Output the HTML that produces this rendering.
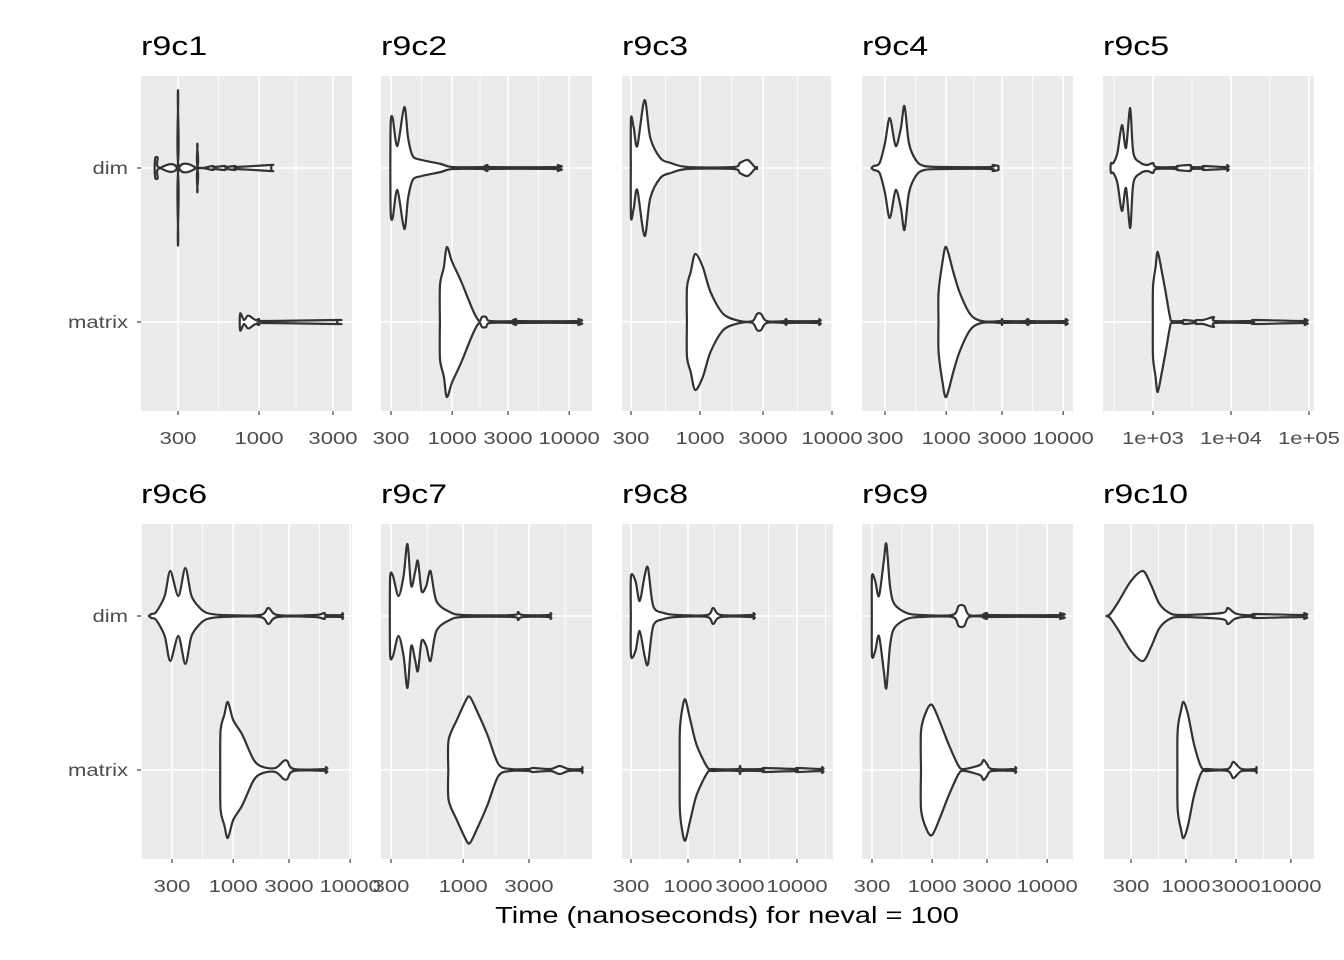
<!DOCTYPE html>
<html><head><meta charset="utf-8"><style>
html,body{margin:0;padding:0;background:#fff;}
svg{display:block;}
text{font-family:"Liberation Sans",Arial,sans-serif;}
</style></head><body>
<svg id="s" width="1344" height="960" xmlns="http://www.w3.org/2000/svg"></svg>
<script>
const P=[
 {t:"r9c1",x0:141,y0:76,a:178,b:155,br:[300,1000,3000],lab:["300","1000","3000"],
  d:[[212,0],[214,10],[222,10],[224,1],[297,1],[299,70],[301,70],[303,1],[397,1],[399,22],[401,22],[403,1],[500,2],[510,1],[600,2],[610,1],[700,2],[710,1],[1190,3],[1200,3]],
  m:[[750,0],[755,8],[765,8],[800,2],[840,6],[870,6],[950,2],[1000,3],[1050,1],[3150,2],[3200,2]]},
 {t:"r9c2",x0:381,y0:76,a:391,b:117,br:[300,1000,3000,10000],lab:["300","1000","3000","10000"],
  d:[[296,0],[298,45],[310,50],[340,22],[390,61],[420,30],[460,12],[550,8],[800,4],[1000,1],[1900,1],[2000,3],[2100,1],[7900,1],[8000,3]],
  m:[[785,0],[787,37],[850,55],[900,75],[1000,60],[1200,40],[1500,12],[1700,1],[1800,5],[1950,5],[2100,1],[3400,1],[3500,3],[3600,1],[11900,1],[12000,3]]},
 {t:"r9c3",x0:622,y0:76,a:631,b:132,br:[300,1000,3000,10000],lab:["300","1000","3000","10000"],
  d:[[299,0],[300,50],[315,40],[335,22],[380,68],[420,30],[500,10],[600,5],[800,1],[1800,1],[2000,5],[2300,8],[2600,1],[2700,1]],
  m:[[795,0],[797,35],[850,50],[920,68],[1050,55],[1200,30],[1500,8],[2000,1],[2500,1],[2700,8],[2900,8],[3200,1],[4400,1],[4500,3],[4600,1],[7900,1],[8000,3]]},
 {t:"r9c4",x0:862,y0:76,a:885,b:117,br:[300,1000,3000,10000],lab:["300","1000","3000","10000"],
  d:[[230,0],[240,2],[270,5],[300,25],[330,50],[370,22],[410,40],[440,62],[480,25],[550,8],[650,2],[1000,1],[2400,1],[2500,3],[2800,2]],
  m:[[860,0],[862,30],[930,60],[1000,75],[1150,50],[1300,30],[1600,8],[2000,1],[2900,1],[3000,3],[3100,1],[4900,1],[5000,3],[5100,1],[10400,1],[10500,3]]},
 {t:"r9c5",x0:1103,y0:76,a:1153-78*Math.log10(1000/300),b:78,br:[1000,10000,100000],lab:["1e+03","1e+04","1e+05"],
  d:[[285,0],[290,5],[310,5],[350,15],[400,43],[450,20],[510,60],[560,15],[700,5],[850,3],[1000,5],[1100,1],[2000,1],[2050,2],[3000,3],[3100,1],[4400,1],[4500,2],[8900,1],[9000,3]],
  m:[[995,0],[1000,35],[1080,55],[1150,70],[1300,50],[1450,30],[1650,5],[1750,1],[2400,1],[2500,2],[3500,1],[3600,2],[4400,2],[6000,5],[6300,1],[19000,1],[20000,2],[87000,1],[88000,3]]},
 {t:"r9c6",x0:141,y0:524,a:172,b:117,br:[300,1000,3000,10000],lab:["300","1000","3000","10000"],
  d:[[190,0],[200,2],[220,4],[260,20],[290,45],[340,20],[390,48],[440,20],[520,8],[600,3],[800,1],[1700,1],[2000,8],[2400,1],[5000,1],[6000,3],[6200,1],[8500,1],[8600,3]],
  m:[[775,0],[780,40],[840,55],[900,68],[1000,50],[1200,35],[1500,10],[1800,3],[2300,2],[2700,9],[2900,9],[3300,1],[6100,1],[6200,3]]},
 {t:"r9c7",x0:381,y0:524,a:391,b:138,br:[300,1000,3000],lab:["300","1000","3000"],
  d:[[294,0],[296,40],[310,40],[340,20],[370,40],[395,72],[420,30],[450,45],[470,55],[500,25],[540,30],[580,45],[640,15],[800,4],[1000,1],[2300,1],[2500,4],[2700,1],[4200,1],[4300,3]],
  m:[[780,0],[785,30],[900,50],[1050,70],[1120,73],[1250,60],[1500,35],[1800,6],[2200,1],[3000,1],[3200,2],[4300,1],[5000,4],[5800,1],[7200,1],[7300,3]]},
 {t:"r9c8",x0:622,y0:524,a:631,b:109,br:[300,1000,3000,10000],lab:["300","1000","3000","10000"],
  d:[[299,0],[300,40],[330,35],[360,15],[400,40],[430,48],[480,10],[600,3],[800,1],[1500,1],[1700,8],[2000,1],[3900,1],[4000,3]],
  m:[[840,0],[842,40],[900,65],[950,70],[1050,50],[1200,25],[1500,3],[1700,1],[2900,1],[3000,4],[3100,1],[4900,1],[5000,2],[9900,1],[10000,2],[16900,1],[17000,3]]},
 {t:"r9c9",x0:862,y0:524,a:872,b:115,br:[300,1000,3000,10000],lab:["300","1000","3000","10000"],
  d:[[299,0],[300,40],[320,35],[345,20],[380,55],[400,72],[430,30],[470,12],[600,3],[800,1],[1500,1],[1700,10],[1900,10],[2100,1],[2900,1],[3000,3],[3100,1],[12900,1],[13000,3]],
  m:[[800,0],[802,40],[900,60],[1000,65],[1150,50],[1400,25],[1700,4],[1900,1],[2600,5],[2800,10],[3000,6],[3300,1],[5200,1],[5300,3]]},
 {t:"r9c10",x0:1103,y0:524,a:1131,b:105,br:[300,1000,3000,10000],lab:["300","1000","3000","10000"],
  d:[[175,0],[190,2],[230,15],[300,35],[390,45],[470,30],[560,12],[700,3],[900,1],[2200,3],[2500,8],[2900,3],[3500,1],[4500,1],[4600,2],[13300,1],[13400,3]],
  m:[[830,0],[835,40],[900,60],[950,68],[1050,55],[1200,25],[1400,3],[1600,1],[2500,1],[2800,8],[3000,6],[3400,1],[4600,1],[4700,3]]}
];
const W=211,H=335;let h='';
function smooth(pts){
 let s=`M${pts[0][0].toFixed(1)},${pts[0][1].toFixed(1)}`;
 for(let i=0;i<pts.length-1;i++){
  const p0=pts[Math.max(0,i-1)],p1=pts[i],p2=pts[i+1],p3=pts[Math.min(pts.length-1,i+2)];
  const t=0.15;
  const c1=[p1[0]+(p2[0]-p0[0])*t,p1[1]+(p2[1]-p0[1])*t];
  const c2=[p2[0]-(p3[0]-p1[0])*t,p2[1]-(p3[1]-p1[1])*t];
  s+=`C${c1[0].toFixed(1)},${c1[1].toFixed(1)} ${c2[0].toFixed(1)},${c2[1].toFixed(1)} ${p2[0].toFixed(1)},${p2[1].toFixed(1)}`;
 }
 return s;
}
P.forEach((p,i)=>{
 const X=v=>p.a+p.b*Math.log10(v/300);
 const yd=p.y0+92,ym=p.y0+246;
 h+=`<clipPath id="c${i}"><rect x="${p.x0}" y="${p.y0}" width="${W}" height="${H}"/></clipPath>`;
 h+=`<rect x="${p.x0}" y="${p.y0}" width="${W}" height="${H}" fill="#ebebeb"/>`;
 h+=`<g clip-path="url(#c${i})">`;
 const br=p.br,n=br.length,r=br[1]/br[0];
 const all=[br[0]/r,...br,br[n-1]*r];
 for(let k=0;k<all.length-1;k++){const mx=X(Math.sqrt(all[k]*all[k+1]));
  h+=`<line x1="${mx}" x2="${mx}" y1="${p.y0}" y2="${p.y0+H}" stroke="#fff" stroke-width="0.8"/>`;}
 br.forEach(v=>{h+=`<line x1="${X(v)}" x2="${X(v)}" y1="${p.y0}" y2="${p.y0+H}" stroke="#fff" stroke-width="1.6"/>`;});
 [yd,ym].forEach(y=>{h+=`<line x1="${p.x0}" x2="${p.x0+W}" y1="${y}" y2="${y}" stroke="#fff" stroke-width="1.6"/>`;});
 [[p.d,yd],[p.m,ym]].forEach(([pts,y])=>{
  let up=pts.map(q=>[X(q[0]),y-q[1]]);
  let dn=pts.slice().reverse().map(q=>[X(q[0]),y+q[1]]);
  let pa=smooth(up)+smooth(dn).replace(/^M/,'L')+'Z';
  h+=`<path d="${pa}" fill="#fff" stroke="#333" stroke-width="2.2" stroke-linejoin="round"/>`;
 });
 h+=`</g>`;
 br.forEach((v,k)=>{const x=X(v);
  h+=`<line x1="${x}" x2="${x}" y1="${p.y0+H}" y2="${p.y0+H+4}" stroke="#333" stroke-width="1.1"/>`;
  h+=`<text class="w" x="${x}" y="${p.y0+H+33}" font-size="17.5" fill="#4d4d4d" text-anchor="middle">${p.lab[k]}</text>`;});
 h+=`<text class="w" x="${p.x0}" y="${p.y0-21}" font-size="27" fill="#000">${p.t}</text>`;
 if(i%5==0){
  [[yd,"dim"],[ym,"matrix"]].forEach(([y,l])=>{
   h+=`<line x1="${p.x0-4}" x2="${p.x0}" y1="${y}" y2="${y}" stroke="#333" stroke-width="1.1"/>`;
   h+=`<text class="w" x="${p.x0-13}" y="${y+6}" font-size="17.5" fill="#4d4d4d" text-anchor="end">${l}</text>`;});
 }
});
h+=`<text class="w" x="727" y="923" font-size="23" fill="#000" text-anchor="middle">Time (nanoseconds) for neval = 100</text>`;
document.getElementById('s').innerHTML=h;
document.querySelectorAll('text.w').forEach(t=>{
 const L=t.getComputedTextLength();
 t.setAttribute('textLength',(L*1.26).toFixed(1));
 t.setAttribute('lengthAdjust','spacingAndGlyphs');
});
</script>
</body></html>
